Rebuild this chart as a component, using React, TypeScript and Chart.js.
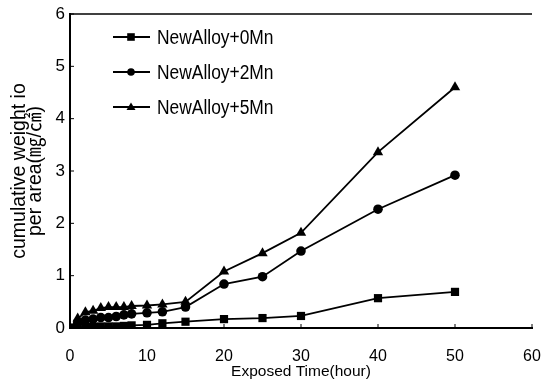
import React, { useEffect, useRef } from 'react';
import { Chart, registerables } from 'chart.js';

Chart.register(...registerables);

// ---- data ----
const hours = [0, 1, 2, 3, 4, 5, 6, 7, 8, 10, 12, 15, 20, 25, 30, 40, 50];
const alloy0Mn = [0, 0.01, 0.02, 0.02, 0.03, 0.03, 0.03, 0.04, 0.05, 0.06, 0.09, 0.12, 0.17, 0.19, 0.23, 0.57, 0.69];
const alloy2Mn = [0, 0.1, 0.15, 0.17, 0.2, 0.2, 0.22, 0.25, 0.27, 0.29, 0.31, 0.4, 0.84, 0.98, 1.47, 2.27, 2.92];
const alloy5Mn = [0, 0.18, 0.3, 0.33, 0.38, 0.4, 0.4, 0.4, 0.42, 0.43, 0.45, 0.5, 1.08, 1.43, 1.82, 3.36, 4.6];
const seriesLabels = ['NewAlloy+0Mn', 'NewAlloy+2Mn', 'NewAlloy+5Mn'];
const xTickValues = [0, 10, 20, 30, 40, 50, 60];
const yTickValues = [0, 1, 2, 3, 4, 5, 6];
const xTitle = 'Exposed Time(hour)';
const yTitle = ['cumulative weight io', 'per area(㎎/㎠)'];

const FONT = 'Liberation Sans, Arial, "Noto Sans CJK KR", sans-serif';

const toPoints = (ys: number[]) => hours.map((h, i) => ({ x: h, y: ys[i] }));

function drawMarker(ctx: CanvasRenderingContext2D, style: string, x: number, y: number, r: number) {
  ctx.beginPath();
  if (style === 'rect') {
    ctx.rect(x - r, y - r, 2 * r, 2 * r);
  } else if (style === 'circle') {
    ctx.arc(x, y, r, 0, Math.PI * 2);
  } else {
    const h = r * 1.7;
    ctx.moveTo(x, y - h * 0.6);
    ctx.lineTo(x + r, y + h * 0.4);
    ctx.lineTo(x - r, y + h * 0.4);
    ctx.closePath();
  }
  ctx.fill();
}

const framePlugin = {
  id: 'frame',
  afterDraw(chart: any) {
    const { ctx, chartArea, scales } = chart;
    ctx.save();
    ctx.strokeStyle = '#000';
    ctx.lineWidth = 1.5;
    ctx.beginPath();
    ctx.moveTo(chartArea.left, chartArea.top);
    ctx.lineTo(chartArea.right, chartArea.top);
    ctx.stroke();
    ctx.lineWidth = 1;
    ctx.beginPath();
    yTickValues.forEach((v) => {
      const py = scales.y.getPixelForValue(v);
      ctx.moveTo(chartArea.left, py);
      ctx.lineTo(chartArea.left + 4, py);
    });
    xTickValues.forEach((v) => {
      const px = scales.x.getPixelForValue(v);
      ctx.moveTo(px, chartArea.bottom);
      ctx.lineTo(px, chartArea.bottom - 4);
    });
    ctx.stroke();
    ctx.restore();
  },
};

const legendPlugin = {
  id: 'innerLegend',
  afterDraw(chart: any) {
    const { ctx } = chart;
    const rows = [37, 72, 107];
    ctx.save();
    chart.data.datasets.forEach((ds: any, i: number) => {
      const y = rows[i];
      ctx.strokeStyle = '#000';
      ctx.fillStyle = '#000';
      ctx.lineWidth = 2;
      ctx.beginPath();
      ctx.moveTo(113, y);
      ctx.lineTo(150, y);
      ctx.stroke();
      drawMarker(ctx, ds.pointStyle, 131, y, ds.pointStyle === 'triangle' ? 4.5 : 3.8);
      ctx.save();
      ctx.translate(157, y);
      ctx.scale(0.87, 1);
      ctx.font = `20px ${FONT}`;
      ctx.textBaseline = 'middle';
      ctx.textAlign = 'left';
      ctx.fillText(ds.label, 0, 1);
      ctx.restore();
    });
    ctx.restore();
  },
};

export default function App() {
  const ref = useRef<HTMLCanvasElement | null>(null);

  useEffect(() => {
    if (!ref.current) return;
    const common = {
      borderColor: '#000',
      backgroundColor: '#000',
      pointBackgroundColor: '#000',
      pointBorderColor: '#000',
      borderWidth: 1.8,
      pointBorderWidth: 0,
      tension: 0,
      fill: false,
    };
    const chart = new Chart(ref.current, {
      type: 'line',
      data: {
        datasets: [
          { ...common, label: seriesLabels[0], data: toPoints(alloy0Mn), pointStyle: 'rect', pointRadius: 5.8 },
          { ...common, label: seriesLabels[1], data: toPoints(alloy2Mn), pointStyle: 'circle', pointRadius: 4.8 },
          { ...common, label: seriesLabels[2], data: toPoints(alloy5Mn), pointStyle: 'triangle', pointRadius: 6 },
        ],
      },
      options: {
        responsive: false,
        animation: false,
        devicePixelRatio: 1,
        layout: { padding: { top: 14, right: 11, left: 0, bottom: 0 } },
        plugins: {
          legend: { display: false },
          tooltip: { enabled: false },
        },
        scales: {
          x: {
            type: 'linear',
            min: 0,
            max: 60,
            afterBuildTicks: (s: any) => {
              s.ticks = xTickValues.map((v) => ({ value: v }));
            },
            afterFit: (s: any) => {
              s.height = 64;
              s.paddingRight = 0;
              s.paddingLeft = 0;
            },
            grid: { display: false, drawTicks: false },
            border: { display: true, color: '#000', width: 2 },
            ticks: {
              color: '#000',
              padding: 19,
              font: { family: FONT, size: 16 },
            },
            title: {
              display: true,
              text: xTitle,
              color: '#000',
              font: { family: FONT, size: 15.5 },
              padding: { top: 0, bottom: 11 },
            },
          },
          y: {
            type: 'linear',
            min: 0,
            max: 6,
            afterBuildTicks: (s: any) => {
              s.ticks = yTickValues.map((v) => ({ value: v }));
            },
            afterFit: (s: any) => {
              s.width = 70;
              s.paddingTop = 0;
              s.paddingBottom = 0;
            },
            grid: { display: false, drawTicks: false },
            border: { display: true, color: '#000', width: 2 },
            ticks: {
              color: '#000',
              padding: 5,
              font: { family: FONT, size: 17 },
            },
            title: {
              display: true,
              text: yTitle,
              color: '#000',
              font: { family: FONT, size: 19.5, lineHeight: '16.5px' },
              padding: { top: 11, bottom: 0 },
            },
          },
        },
      },
      plugins: [framePlugin, legendPlugin],
    });
    return () => chart.destroy();
  }, []);

  return (
    <div style={{ position: 'absolute', left: 0, top: 0, width: 543, height: 392, background: '#fff' }}>
      <canvas ref={ref} width={543} height={392} style={{ display: 'block' }} />
    </div>
  );
}
